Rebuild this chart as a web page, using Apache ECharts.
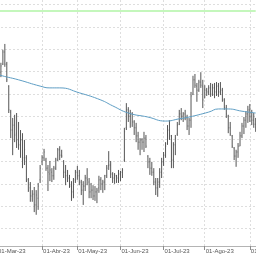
<!DOCTYPE html>
<html>
<head>
<meta charset="utf-8">
<script src="https://cdn.jsdelivr.net/npm/echarts@6/dist/echarts.min.js"></script>
<style>
  html, body { margin: 0; padding: 0; background: #fff; }
  #chart { width: 256px; height: 256px; }
</style>
</head>
<body>
<div id="chart"></div>
<script>
// trading days per month (months as shown on the axis)
var monthNames = ['Mar', 'Abr', 'May', 'Jun', 'Jul', 'Ago', 'Sep']
var monthDays = [
  [1, 2, 3, 6, 7, 8, 9, 10, 13, 14, 15, 16, 17, 20, 21, 22, 23, 24, 27, 28, 29, 30, 31],
  [3, 4, 5, 6, 11, 12, 13, 14, 17, 18, 19, 20, 21, 24, 25, 26, 27, 28],
  [2, 3, 4, 5, 8, 9, 10, 11, 12, 15, 16, 17, 18, 19, 22, 23, 24, 25, 26, 29, 30, 31],
  [1, 2, 5, 6, 7, 8, 9, 12, 13, 14, 15, 16, 19, 20, 21, 22, 23, 26, 27, 28, 29, 30],
  [3, 4, 5, 6, 7, 10, 11, 12, 13, 14, 17, 18, 19, 20, 21, 24, 25, 26, 27, 28, 31],
  [1, 2, 3, 4, 7, 8, 9, 10, 11, 14, 15, 16, 17, 18, 21, 22, 23, 24, 25, 28, 29, 30, 31],
  [1, 4, 5, 6]
]

var opens = [117.0, 119.5, 119.9, 121.7, 124.4, 121.7, 116.8, 111.0, 107.0, 108.1,
  106.3, 104.8, 103.7, 104.8, 100.8, 100.8, 95.9, 94.1, 92.3, 92.7,
  90.3, 91.8, 95.9, 99.9, 100.8, 100.3, 98.5, 97.2, 97.6, 96.8,
  98.5, 100.3, 102.6, 101.4, 99.9, 97.6, 96.8, 96.3, 94.5, 93.2,
  95.9, 97.6, 96.8, 95.4, 93.6, 94.5, 96.3, 95.4, 93.2, 93.6,
  92.3, 93.2, 94.1, 95.9, 95.0, 95.4, 96.8, 99.0, 99.2, 97.2,
  96.3, 96.8, 96.3, 97.2, 97.6, 100.3, 107.5, 111.5, 110.1, 110.6,
  108.8, 107.5, 105.7, 104.3, 104.8, 104.3, 105.2, 101.2, 99.9, 98.5,
  97.6, 95.4, 94.1, 95.4, 97.6, 99.9, 101.4, 103.9, 107.0, 105.7,
  100.3, 103.7, 106.1, 108.3, 110.6, 110.1, 110.6, 109.7, 107.9, 109.2,
  115.0, 118.2, 116.8, 115.9, 117.7, 116.8, 114.1, 115.9, 115.5, 116.4,
  115.0, 116.4, 115.5, 116.8, 115.5, 115.9, 113.7, 111.9, 110.1, 107.5,
  105.7, 103.0, 101.2, 102.1, 103.4, 105.7, 107.9, 109.2, 110.6, 111.5,
  110.1, 109.2, 108.3]
var highs = [120.4, 120.8, 122.0, 124.9, 126.2, 122.2, 117.0, 111.5, 109.7, 110.4,
  110.8, 108.8, 107.0, 106.3, 104.8, 101.4, 96.3, 95.4, 93.6, 94.3,
  93.6, 95.2, 99.2, 101.4, 102.8, 100.8, 99.2, 100.1, 98.5, 99.0,
  100.8, 103.0, 103.4, 102.6, 100.3, 99.2, 98.1, 97.0, 95.6, 96.3,
  98.1, 99.0, 98.1, 95.9, 95.6, 97.0, 98.5, 96.3, 95.2, 94.7,
  94.5, 94.1, 96.8, 96.5, 95.9, 97.0, 99.2, 102.3, 100.1, 97.6,
  97.4, 97.0, 98.1, 97.9, 98.5, 107.5, 113.0, 112.1, 111.5, 111.0,
  109.2, 108.6, 106.6, 105.2, 105.2, 106.6, 105.9, 101.4, 100.8, 99.9,
  98.5, 96.3, 96.3, 98.5, 100.8, 102.1, 104.3, 108.1, 109.2, 105.9,
  104.3, 105.9, 108.8, 111.5, 111.9, 111.0, 111.5, 110.4, 109.7, 115.5,
  119.1, 119.5, 117.5, 118.2, 119.9, 118.2, 117.0, 116.4, 117.0, 117.5,
  117.3, 117.5, 117.7, 117.5, 117.7, 116.4, 114.1, 112.6, 110.4, 108.8,
  105.9, 103.2, 102.6, 104.1, 106.6, 108.6, 109.9, 111.2, 112.4, 112.8,
  111.5, 110.8, 109.7]
var lows = [115.9, 115.5, 118.8, 121.5, 121.1, 117.7, 110.8, 105.2, 101.4, 104.3,
  103.0, 102.6, 100.8, 98.5, 99.2, 95.4, 93.2, 91.0, 91.0, 88.7,
  88.1, 89.2, 95.2, 99.2, 100.1, 97.9, 93.4, 95.6, 95.4, 95.9,
  98.1, 100.1, 100.3, 100.8, 96.3, 94.7, 95.4, 94.1, 91.2, 91.8,
  95.2, 95.9, 94.7, 92.5, 90.3, 93.4, 94.7, 91.8, 91.8, 91.4,
  91.2, 90.7, 93.0, 93.6, 93.0, 93.6, 96.3, 98.1, 96.3, 95.2,
  95.0, 95.2, 95.2, 95.6, 96.3, 99.9, 107.0, 108.8, 107.5, 107.7,
  105.9, 104.3, 102.6, 101.4, 102.6, 102.1, 103.0, 98.5, 97.0, 96.8,
  94.7, 92.5, 92.1, 94.1, 96.3, 99.0, 100.8, 103.7, 104.8, 98.5,
  98.5, 101.4, 105.7, 108.1, 109.2, 108.8, 109.2, 107.0, 105.9, 107.5,
  114.8, 116.4, 113.3, 115.5, 116.4, 111.9, 114.1, 114.6, 114.8, 114.4,
  114.6, 114.1, 114.6, 114.4, 114.8, 113.3, 111.5, 109.7, 106.3, 105.7,
  103.0, 100.3, 98.8, 100.8, 103.4, 105.2, 106.1, 107.5, 108.6, 108.8,
  108.1, 107.5, 106.6]
var closes = [119.5, 120.4, 121.3, 124.4, 121.7, 118.2, 111.5, 107.0, 108.1, 105.9,
  104.8, 103.7, 104.8, 100.3, 102.6, 95.9, 93.6, 92.3, 92.7, 90.3,
  92.5, 94.5, 98.5, 100.8, 102.1, 98.5, 97.6, 98.1, 96.8, 98.5,
  100.3, 102.6, 101.4, 101.2, 97.6, 96.8, 96.3, 94.5, 93.2, 95.4,
  97.6, 96.8, 95.4, 93.6, 94.5, 96.3, 95.9, 93.2, 93.6, 92.3,
  93.2, 93.6, 95.9, 95.0, 95.4, 96.8, 98.5, 99.2, 97.2, 96.3,
  96.8, 96.3, 97.2, 97.6, 98.1, 106.6, 111.5, 110.1, 110.6, 108.8,
  107.5, 105.7, 104.3, 104.8, 104.3, 105.2, 103.4, 99.9, 98.5, 97.6,
  95.4, 94.1, 95.4, 97.6, 99.9, 101.4, 103.4, 107.0, 105.7, 100.3,
  103.7, 105.2, 108.1, 110.6, 110.1, 110.6, 109.7, 107.9, 109.2, 114.6,
  118.2, 117.0, 115.9, 117.7, 117.0, 113.7, 115.9, 115.5, 116.4, 115.0,
  116.4, 115.5, 116.8, 115.5, 115.9, 113.7, 111.9, 110.6, 107.5, 106.1,
  103.4, 101.2, 102.1, 103.4, 105.7, 107.9, 109.2, 110.6, 111.5, 110.1,
  109.2, 108.3, 107.5]

// moving average, read at a few points along the curve
var maIndex = [0, 1, 11, 22, 27, 32, 42, 53, 59, 67, 77, 86, 93, 98, 108, 113, 118, 125, 132]
var maValues = [119.6, 119.3, 118.2, 116.8, 116.4, 116.4, 115.3, 113.7, 112.4, 110.8, 109.9, 109.0, 109.5, 109.9, 111.0, 111.7, 111.7, 111.2, 110.8]

var greenLevel = 133.7

var categories = []
var monthStart = {}
for (var m = 0; m < monthNames.length; m++) {
  monthStart[categories.length] = true
  for (var d = 0; d < monthDays[m].length; d++) {
    var dd = monthDays[m][d] < 10 ? '0' + monthDays[m][d] : '' + monthDays[m][d]
    categories.push(dd + '-' + monthNames[m] + '-23')
  }
}

var ohlc = []
for (var i = 0; i < categories.length; i++) {
  ohlc.push([i, opens[i], highs[i], lows[i], closes[i]])
}
var maData = []
for (var j = 0; j < maIndex.length; j++) {
  maData.push([maIndex[j], maValues[j]])
}

function isMonthStart(idx) {
  return monthStart[idx] === true
}

var barColor = '#555555'

var myChart = echarts.init(document.getElementById('chart'))
var option = {
  animation: false,
  backgroundColor: '#ffffff',
  grid: { left: -3, right: 0.3, top: 0, bottom: 10, outerBoundsMode: 'none', containLabel: false },
  xAxis: {
    type: 'category',
    data: categories,
    boundaryGap: false,
    axisLine: { lineStyle: { color: '#b4b4b4', width: 1 } },
    axisTick: { show: true, interval: isMonthStart, length: 4, lineStyle: { color: '#8c8c8c' } },
    axisLabel: {
      interval: isMonthStart,
      align: 'left',
      margin: 2,
      padding: [0, 0, 0, 1],
      fontSize: 6,
      fontFamily: 'Liberation Sans Narrow, Liberation Sans, sans-serif',
      color: '#555555',
      hideOverlap: false,
      formatter: function (v) { return '01' + v.slice(2) }
    },
    splitLine: { show: true, interval: isMonthStart, lineStyle: { color: '#dedede', type: [2, 2] } }
  },
  yAxis: {
    type: 'value',
    min: 81.14,
    max: 136,
    splitNumber: 11,
    minInterval: 5,
    maxInterval: 5,
    axisLine: { show: false },
    axisTick: { show: false },
    axisLabel: { show: false },
    splitLine: { show: true, showMinLine: false, showMaxLine: false, lineStyle: { color: '#dedede', type: [2, 2] } }
  },
  series: [
    {
      type: 'custom',
      data: ohlc,
      encode: { x: 0, y: [1, 2, 3, 4] },
      renderItem: function (params, api) {
        var x = api.coord([api.value(0), api.value(2)])[0]
        var yH = api.coord([api.value(0), api.value(2)])[1]
        var yL = api.coord([api.value(0), api.value(3)])[1]
        var yO = api.coord([api.value(0), api.value(1)])[1]
        var yC = api.coord([api.value(0), api.value(4)])[1]
        var st = { stroke: barColor, lineWidth: 1 }
        var tk = { stroke: barColor, lineWidth: 0.8, opacity: 0.7 }
        return {
          type: 'group',
          children: [
            { type: 'line', shape: { x1: x, y1: yH, x2: x, y2: yL }, style: st },
            { type: 'line', shape: { x1: x - 0.7, y1: yO, x2: x, y2: yO }, style: tk },
            { type: 'line', shape: { x1: x, y1: yC, x2: x + 0.7, y2: yC }, style: tk }
          ]
        }
      }
    },
    {
      type: 'line',
      data: maData,
      smooth: true,
      symbol: 'none',
      lineStyle: { color: '#5f9ec4', width: 1 },
      markLine: {
        silent: true,
        symbol: ['none', 'none'],
        label: { show: false },
        lineStyle: { color: '#c4f7bc', width: 2, type: 'solid' },
        data: [{ yAxis: greenLevel }]
      }
    }
  ]
}
myChart.setOption(option)
</script>
</body>
</html>
